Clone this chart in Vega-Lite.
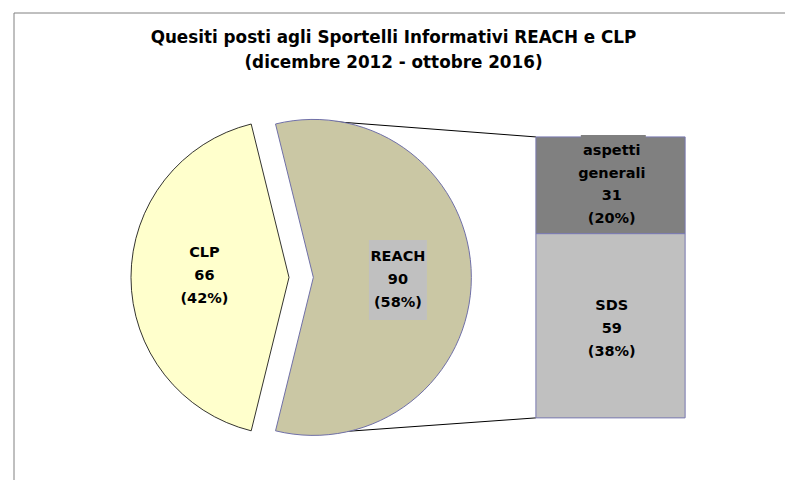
{
  "$schema": "https://vega.github.io/schema/vega-lite/v6.json",
  "width": 771,
  "height": 467,
  "autosize": {"type": "none"},
  "padding": {"left": 14, "top": 13, "right": 0, "bottom": 0},
  "background": "white",
  "config": {"view": {"stroke": null}, "font": "DejaVu Sans"},
  "title": {
    "text": ["Quesiti posti agli Sportelli Informativi REACH e CLP", "(dicembre 2012 - ottobre 2016)"],
    "fontSize": 16.8,
    "fontWeight": "bold",
    "font": "DejaVu Sans",
    "color": "black",
    "lineHeight": 25,
    "anchor": "middle",
    "baseline": "top",
    "offset": -59,
    "dx": -6
  },
  "datasets": {
    "pie": [
      {"cat": "CLP", "value": 66, "pct": 42},
      {"cat": "REACH", "value": 90, "pct": 58}
    ],
    "bar": [
      {"cat": "aspetti generali", "value": 31, "pct": 20},
      {"cat": "SDS", "value": 59, "pct": 38}
    ],
    "one": [{}]
  },
  "resolve": {"scale": {"x": "shared", "y": "shared"}},
  "layer": [
    {
      "data": {"name": "one"},
      "mark": {"type": "rule", "color": "#808080", "strokeWidth": 1},
      "encoding": {
        "x": {"datum": -92, "type": "quantitative", "scale": {"domain": [-92, 155], "nice": false, "zero": false}, "axis": null},
        "x2": {"datum": 155},
        "y": {"datum": 129.7, "type": "quantitative", "scale": {"domain": [-19.9, 129.7], "nice": false, "zero": false}, "axis": null}
      }
    },
    {
      "data": {"name": "one"},
      "mark": {"type": "rule", "color": "#808080", "strokeWidth": 1},
      "encoding": {
        "x": {"datum": -92, "type": "quantitative"},
        "y": {"datum": -19.9, "type": "quantitative"},
        "y2": {"datum": 129.7}
      }
    },
    {
      "data": {"name": "one"},
      "mark": {"type": "rule", "color": "black", "strokeWidth": 1},
      "encoding": {
        "x": {"datum": 9.2, "type": "quantitative"},
        "x2": {"datum": 75.2},
        "y": {"datum": 95.0, "type": "quantitative"},
        "y2": {"datum": 90}
      }
    },
    {
      "data": {"name": "one"},
      "mark": {"type": "rule", "color": "black", "strokeWidth": 1},
      "encoding": {
        "x": {"datum": 13.5, "type": "quantitative"},
        "x2": {"datum": 75.2},
        "y": {"datum": -4.4, "type": "quantitative"},
        "y2": {"datum": 0}
      }
    },
    {
      "data": {"name": "pie"},
      "transform": [
        {"stack": "value", "groupby": [], "sort": [{"field": "cat", "order": "descending"}], "as": ["v0", "v1"]},
        {"filter": "datum.cat === 'CLP'"}
      ],
      "mark": {"type": "arc", "radius": 158, "fill": "#ffffcc", "stroke": "black", "strokeWidth": 0.8},
      "encoding": {
        "x": {"datum": -3.9, "type": "quantitative"},
        "y": {"datum": 45, "type": "quantitative"},
        "theta": {"field": "v0", "type": "quantitative", "scale": {"domain": [0, 156], "range": [-0.2417, 6.0415]}},
        "theta2": {"field": "v1"}
      }
    },
    {
      "data": {"name": "pie"},
      "transform": [
        {"stack": "value", "groupby": [], "sort": [{"field": "cat", "order": "descending"}], "as": ["v0", "v1"]},
        {"filter": "datum.cat === 'REACH'"}
      ],
      "mark": {"type": "arc", "radius": 158, "fill": "#cac7a4", "stroke": "#7070a8", "strokeWidth": 1},
      "encoding": {
        "x": {"datum": 3.9, "type": "quantitative"},
        "y": {"datum": 45, "type": "quantitative"},
        "theta": {"field": "v0", "type": "quantitative"},
        "theta2": {"field": "v1"}
      }
    },
    {
      "data": {"name": "pie"},
      "transform": [{"filter": "datum.cat === 'REACH'"}],
      "mark": {"type": "point", "shape": "M-0.725,-1H0.725V1H-0.725Z", "filled": true, "fill": "#c0c0c0", "opacity": 1, "strokeWidth": 0},
      "encoding": {
        "x": {"datum": 31.0, "type": "quantitative"},
        "y": {"datum": 44.2, "type": "quantitative"},
        "size": {"value": 6400}
      }
    },
    {
      "data": {"name": "pie"},
      "transform": [
        {"calculate": "datum.cat + '\\n' + datum.value + '\\n(' + datum.pct + '%)'", "as": "label"},
        {"filter": "datum.cat === 'CLP'"}
      ],
      "mark": {"type": "text", "fontSize": 14.5, "fontWeight": "bold", "lineHeight": 23, "lineBreak": "\n", "align": "center", "baseline": "middle", "color": "black", "dy": -23},
      "encoding": {
        "x": {"datum": -31.0, "type": "quantitative"},
        "y": {"datum": 45.3, "type": "quantitative"},
        "text": {"field": "label"}
      }
    },
    {
      "data": {"name": "pie"},
      "transform": [
        {"calculate": "datum.cat + '\\n' + datum.value + '\\n(' + datum.pct + '%)'", "as": "label"},
        {"filter": "datum.cat === 'REACH'"}
      ],
      "mark": {"type": "text", "fontSize": 14.5, "fontWeight": "bold", "lineHeight": 23, "lineBreak": "\n", "align": "center", "baseline": "middle", "color": "black", "dy": -23},
      "encoding": {
        "x": {"datum": 31.0, "type": "quantitative"},
        "y": {"datum": 44.2, "type": "quantitative"},
        "text": {"field": "label"}
      }
    },
    {
      "data": {"name": "bar"},
      "transform": [
        {"stack": "value", "groupby": [], "sort": [{"field": "cat", "order": "ascending"}], "as": ["v0", "v1"]}
      ],
      "mark": {"type": "rect", "stroke": "#7878b0", "strokeWidth": 1},
      "encoding": {
        "x": {"datum": 75.2, "type": "quantitative"},
        "x2": {"datum": 123.0},
        "y": {"field": "v0", "type": "quantitative"},
        "y2": {"field": "v1"},
        "fill": {"field": "cat", "type": "nominal", "scale": {"domain": ["aspetti generali", "SDS"], "range": ["#808080", "#c0c0c0"]}, "legend": null}
      }
    },
    {
      "data": {"name": "bar"},
      "transform": [{"filter": "datum.cat === 'aspetti generali'"}],
      "mark": {"type": "point", "shape": "M-0.663,-1H0.663V1H-0.663Z", "filled": true, "fill": "#808080", "opacity": 1, "strokeWidth": 0},
      "encoding": {
        "x": {"datum": 100.0, "type": "quantitative"},
        "y": {"datum": 74.9, "type": "quantitative"},
        "size": {"value": 9604}
      }
    },
    {
      "data": {"name": "bar"},
      "transform": [
        {"stack": "value", "groupby": [], "sort": [{"field": "cat", "order": "ascending"}], "as": ["v0", "v1"]},
        {"calculate": "(datum.v0 + datum.v1) / 2", "as": "mid"},
        {"calculate": "datum.cat + '\\n' + datum.value + '\\n(' + datum.pct + '%)'", "as": "label"},
        {"filter": "datum.cat === 'SDS'"}
      ],
      "mark": {"type": "text", "fontSize": 14.5, "fontWeight": "bold", "lineHeight": 23, "lineBreak": "\n", "align": "center", "baseline": "middle", "color": "black", "dy": -20},
      "encoding": {
        "x": {"datum": 99.5, "type": "quantitative"},
        "y": {"field": "mid", "type": "quantitative"},
        "text": {"field": "label"}
      }
    },
    {
      "data": {"name": "bar"},
      "transform": [
        {"stack": "value", "groupby": [], "sort": [{"field": "cat", "order": "ascending"}], "as": ["v0", "v1"]},
        {"calculate": "(datum.v0 + datum.v1) / 2", "as": "mid"},
        {"calculate": "replace(datum.cat, ' ', '\\n') + '\\n' + datum.value + '\\n(' + datum.pct + '%)'", "as": "label"},
        {"filter": "datum.cat === 'aspetti generali'"}
      ],
      "mark": {"type": "text", "fontSize": 14.5, "fontWeight": "bold", "lineHeight": 22.5, "lineBreak": "\n", "align": "center", "baseline": "middle", "color": "black", "dy": -34},
      "encoding": {
        "x": {"datum": 99.5, "type": "quantitative"},
        "y": {"field": "mid", "type": "quantitative"},
        "text": {"field": "label"}
      }
    }
  ]
}
